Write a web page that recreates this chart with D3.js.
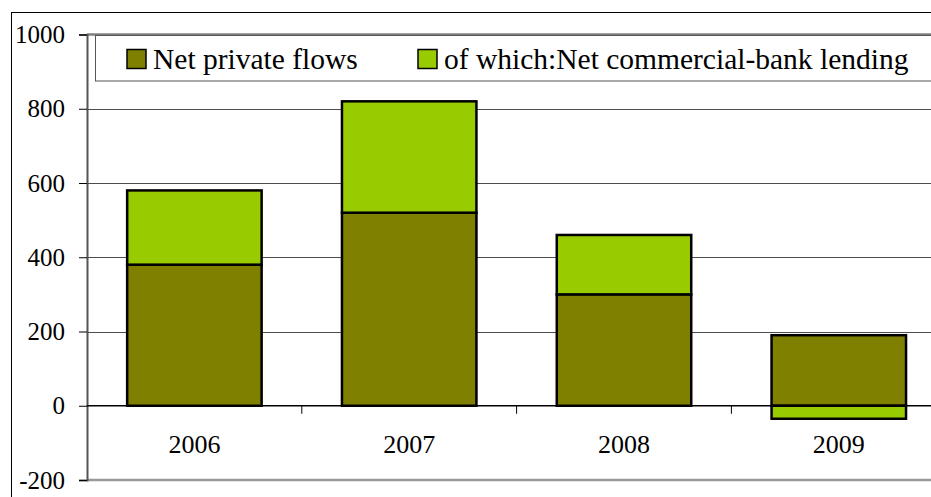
<!DOCTYPE html>
<html>
<head>
<meta charset="utf-8">
<script src="https://cdn.jsdelivr.net/npm/d3@7"></script>
<style>
  body { margin: 0; background: #fff; }
  svg { display: block; }
  svg text { font-family: "Liberation Serif", "Times New Roman", serif; fill: #000; }
</style>
</head>
<body>
<div id="chart"></div>
<script>
// Dados
const years = ["2006", "2007", "2008", "2009"];
const netPrivate = [380, 520, 300, 190];
const bankLending = [200, 300, 160, -35];
const yTicks = [-200, 0, 200, 400, 600, 800, 1000];
const seriesNames = ["Net private flows", "of which:Net commercial-bank lending"];
const seriesColors = ["#808000", "#99cc00"];

const width = 931, height = 497;
const plotLeft = 87, plotTop = 34.5, plotBottom = 480;

const svg = d3.select("#chart").append("svg")
  .attr("width", width).attr("height", height);

// Moldura exterior
svg.append("rect")
  .attr("x", 11.5).attr("y", 12.5)
  .attr("width", 960).attr("height", 520)
  .attr("fill", "none").attr("stroke", "#000").attr("stroke-width", 1);

// Escalas
const y = d3.scaleLinear().domain([-200, 1000]).range([plotBottom, plotTop]);
const x = d3.scaleBand().domain(years)
  .range([plotLeft, plotLeft + 4 * 214.8])
  .paddingInner(0.374).paddingOuter(0.187);

// Grelha
svg.append("g").selectAll("line")
  .data(yTicks.filter(d => d > 0 && d < 1000))
  .enter().append("line")
  .attr("x1", plotLeft).attr("x2", width)
  .attr("y1", d => Math.round(y(d)) + 0.5).attr("y2", d => Math.round(y(d)) + 0.5)
  .attr("stroke", "#4d4d4d").attr("stroke-width", 1.2);

// Borda da área do gráfico (topo e base)
svg.append("line").attr("x1", plotLeft).attr("x2", width)
  .attr("y1", y(1000)).attr("y2", y(1000))
  .attr("stroke", "#808080").attr("stroke-width", 2.5);
svg.append("line").attr("x1", plotLeft).attr("x2", width)
  .attr("y1", y(-200)).attr("y2", y(-200))
  .attr("stroke", "#999").attr("stroke-width", 2.5);

// Eixo Y
const yAxis = svg.append("g").attr("transform", `translate(${plotLeft},0)`)
  .call(d3.axisLeft(y).tickValues(yTicks).tickFormat(d => String(d)).tickSize(8).tickPadding(14))
  .attr("font-family", null).attr("font-size", null);
yAxis.select(".domain").attr("stroke", "#555").attr("stroke-width", 2);
yAxis.selectAll(".tick line").attr("stroke", "#000");
yAxis.selectAll("text").style("font-size", "25px");

// Legenda
const legend = svg.append("g");
legend.append("rect")
  .attr("x", 95.5).attr("y", 35.5).attr("width", 900).attr("height", 45.5)
  .attr("fill", "#fff").attr("stroke", "#555").attr("stroke-width", 1);
const legendX = [127, 418];
seriesNames.forEach((name, i) => {
  legend.append("rect")
    .attr("x", legendX[i]).attr("y", 49.5).attr("width", 19).attr("height", 19)
    .attr("fill", seriesColors[i]).attr("stroke", "#000").attr("stroke-width", 1.5);
  legend.append("text")
    .attr("x", legendX[i] + 26).attr("y", 69)
    .style("font-size", "29.5px")
    .text(name);
});

// Barras empilhadas
const stackData = years.map((d, i) => {
  const a = netPrivate[i], b = bankLending[i];
  return [
    { year: d, y0: 0, y1: a, color: seriesColors[0] },
    b >= 0
      ? { year: d, y0: a, y1: a + b, color: seriesColors[1] }
      : { year: d, y0: b, y1: 0, color: seriesColors[1] }
  ];
}).flat();

svg.append("g").selectAll("rect")
  .data(stackData)
  .enter().append("rect")
  .attr("x", d => x(d.year))
  .attr("width", x.bandwidth())
  .attr("y", d => y(Math.max(d.y0, d.y1)))
  .attr("height", d => Math.abs(y(d.y0) - y(d.y1)))
  .attr("fill", d => d.color)
  .attr("stroke", "#000").attr("stroke-width", 2.5);

// Eixo X (linha zero)
svg.append("line").attr("x1", plotLeft).attr("x2", width)
  .attr("y1", y(0)).attr("y2", y(0))
  .attr("stroke", "#000").attr("stroke-width", 1.5);

const step = x.step();
svg.append("g").selectAll("line")
  .data(d3.range(1, years.length))
  .enter().append("line")
  .attr("x1", i => plotLeft + i * step).attr("x2", i => plotLeft + i * step)
  .attr("y1", y(0)).attr("y2", y(0) + 8)
  .attr("stroke", "#000").attr("stroke-width", 1);

svg.append("g").selectAll("text")
  .data(years)
  .enter().append("text")
  .attr("x", d => x(d) + x.bandwidth() / 2)
  .attr("y", 453)
  .attr("text-anchor", "middle")
  .style("font-size", "26px")
  .text(d => d);
</script>
</body>
</html>
